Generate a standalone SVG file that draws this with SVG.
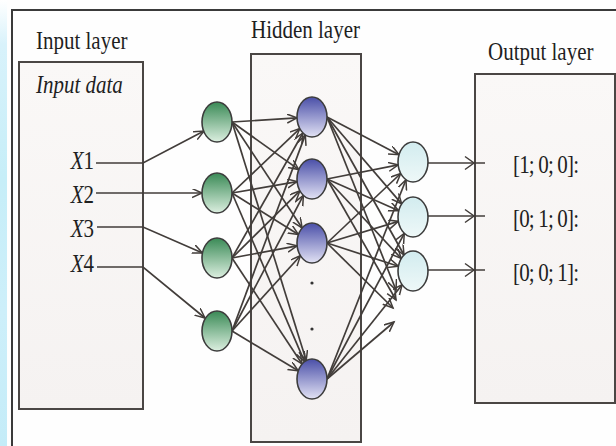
<svg xmlns="http://www.w3.org/2000/svg" width="616" height="446" viewBox="0 0 616 446">
<defs>
<style>
.t{font-family:"Liberation Serif","Times New Roman",serif;font-size:21px;fill:#1f1f1f}
.it{font-style:italic}
.box{stroke:#4a4644;stroke-width:2}
.n{stroke:#3c3c3c;stroke-width:1.6}
.c{fill:none;stroke:#423d3a;stroke-width:1.7;marker-end:url(#ah)}
.p{fill:none;stroke:#423d3a;stroke-width:1.7}
.h{fill:none;stroke:#423d3a;stroke-width:1.5}
</style>
<marker id="ah" markerUnits="userSpaceOnUse" markerWidth="13" markerHeight="11" refX="10" refY="4.5" orient="auto">
<path d="M0,0 L10,4.5 L0,9" fill="none" stroke="#423d3a" stroke-width="1.5"/>
</marker>
<linearGradient id="gG" x1="0" y1="0" x2="0" y2="1"><stop offset="0" stop-color="#3a8a56"/><stop offset="1" stop-color="#dcefe0"/></linearGradient>
<linearGradient id="gB" x1="0" y1="0" x2="0" y2="1"><stop offset="0" stop-color="#4a4fa8"/><stop offset="1" stop-color="#e2e2f4"/></linearGradient>
<linearGradient id="gC" x1="0" y1="0" x2="0" y2="1"><stop offset="0" stop-color="#d2ecef"/><stop offset="1" stop-color="#eef8f8"/></linearGradient>
<linearGradient id="gS" x1="0" y1="0" x2="0" y2="1"><stop offset="0" stop-color="#ffffff"/><stop offset="0.1" stop-color="#d8f2fb"/><stop offset="0.4" stop-color="#c6eef8"/><stop offset="0.7" stop-color="#cdeffa"/><stop offset="1" stop-color="#c4ecf8"/></linearGradient>
<linearGradient id="gBox" x1="0" y1="0" x2="0" y2="1"><stop offset="0" stop-color="#faf8f7"/><stop offset="1" stop-color="#f5f2f1"/></linearGradient>
</defs>
<rect x="0" y="0" width="616" height="446" fill="#fefefe"/>
<rect x="0" y="0" width="7" height="446" fill="url(#gS)"/>
<g id="frame"><path d="M12,446 L12,10 L616,10" fill="none" stroke="#3a3a3a" stroke-width="2"/></g>

<g id="input-layer">
<rect class="box" x="19" y="62" width="124" height="347" fill="url(#gBox)"/>
<text class="t" transform="translate(36,49) scale(1,1.22)">Input layer</text>
<text class="t it" transform="translate(36,93) scale(1,1.22)">Input data</text>
<text class="t" text-anchor="end" transform="translate(94,169) scale(1,1.22)"><tspan class="it">X</tspan>1</text>
<text class="t" text-anchor="end" transform="translate(94,203) scale(1,1.22)"><tspan class="it">X</tspan>2</text>
<text class="t" text-anchor="end" transform="translate(94,237) scale(1,1.22)"><tspan class="it">X</tspan>3</text>
<text class="t" text-anchor="end" transform="translate(94,272) scale(1,1.22)"><tspan class="it">X</tspan>4</text>
</g>

<g id="hidden-layer">
<rect class="box" x="251" y="54" width="110" height="388" fill="url(#gBox)"/>
<text class="t" transform="translate(251,38) scale(1,1.22)">Hidden layer</text>
<circle cx="312" cy="283" r="1.6" fill="#333"/>
<circle cx="312" cy="329" r="1.6" fill="#333"/>
</g>

<g id="output-layer">
<rect class="box" x="475" y="74" width="140" height="329" fill="url(#gBox)"/>
<text class="t" transform="translate(488,60) scale(1,1.22)">Output layer</text>
<text class="t" textLength="66" transform="translate(513,173) scale(1,1.22)">[1; 0; 0]:</text>
<text class="t" textLength="66" transform="translate(513,227) scale(1,1.22)">[0; 1; 0]:</text>
<text class="t" textLength="66" transform="translate(513,281) scale(1,1.22)">[0; 0; 1]:</text>
</g>

<g id="connectors">
<path class="c" d="M96,163 L143,163 L204,131"/>
<path class="c" d="M96,193 L202,193"/>
<path class="c" d="M97,227 L143,227 L202.5,253"/>
<path class="c" d="M97,267 L143,267 L205,318"/>

<path class="c" d="M232,122 L297,117.9"/>
<path class="c" d="M232,122 L298.8,169.6"/>
<path class="c" d="M232,122 L302.1,228"/>
<path class="c" d="M232,122 L306.2,360.5"/>
<path class="c" d="M232,193 L299.8,128.6"/>
<path class="c" d="M232,193 L297.1,181.6"/>
<path class="c" d="M232,193 L298.4,234.5"/>
<path class="c" d="M232,193 L304.5,361.6"/>
<path class="c" d="M232,258 L302.9,133"/>
<path class="c" d="M232,258 L299.9,190.9"/>
<path class="c" d="M232,258 L297.1,245.8"/>
<path class="c" d="M232,258 L302.1,364"/>
<path class="c" d="M232,331 L305.3,134.9"/>
<path class="c" d="M232,331 L303.4,195.4"/>
<path class="c" d="M232,331 L300.4,255.7"/>
<path class="c" d="M232,331 L298.3,370.8"/>

<path class="c" d="M327,117 L399,154.7"/>
<path class="c" d="M327,117 L401.7,203.9"/>
<path class="c" d="M327,117 L404,255"/>
<path class="c" d="M327,117 L396,290"/>
<path class="c" d="M327,179 L398.2,164.9"/>
<path class="c" d="M327,179 L398.8,210.7"/>
<path class="c" d="M327,179 L401.3,258.5"/>
<path class="c" d="M327,179 L396,300"/>
<path class="c" d="M327,243 L400.7,173.5"/>
<path class="c" d="M327,243 L398.4,221.4"/>
<path class="c" d="M327,243 L398.4,266.3"/>
<path class="c" d="M327,243 L393,308"/>
<path class="c" d="M327,379 L406,179.7"/>
<path class="c" d="M327,379 L404.3,233.3"/>
<path class="c" d="M327,379 L402.1,284.7"/>
<path class="c" d="M327,379 L394,322"/>

<path class="p" d="M428,163 L485,163"/>
<path class="p" d="M428,216 L485,216"/>
<path class="p" d="M428,270 L485,270"/>
<path class="h" d="M465,156.5 L474,163 L465,169.5"/>
<path class="h" d="M465,209.5 L474,216 L465,222.5"/>
<path class="h" d="M465,263.5 L474,270 L465,276.5"/>
</g>

<g id="in1"><ellipse class="n" cx="217" cy="122" rx="15" ry="20" fill="url(#gG)"/></g>
<g id="in2"><ellipse class="n" cx="217" cy="193" rx="15" ry="20" fill="url(#gG)"/></g>
<g id="in3"><ellipse class="n" cx="217" cy="258" rx="15" ry="20" fill="url(#gG)"/></g>
<g id="in4"><ellipse class="n" cx="217" cy="331" rx="15" ry="20" fill="url(#gG)"/></g>
<g id="h1"><ellipse class="n" cx="312" cy="117" rx="15" ry="20" fill="url(#gB)"/></g>
<g id="h2"><ellipse class="n" cx="312" cy="179" rx="15" ry="20" fill="url(#gB)"/></g>
<g id="h3"><ellipse class="n" cx="312" cy="243" rx="15" ry="20" fill="url(#gB)"/></g>
<g id="h4"><ellipse class="n" cx="312" cy="379" rx="15" ry="20" fill="url(#gB)"/></g>
<g id="o1"><ellipse class="n" cx="413" cy="162" rx="15" ry="20" fill="url(#gC)"/></g>
<g id="o2"><ellipse class="n" cx="413" cy="217" rx="15" ry="20" fill="url(#gC)"/></g>
<g id="o3"><ellipse class="n" cx="413" cy="271" rx="15" ry="20" fill="url(#gC)"/></g>
</svg>
